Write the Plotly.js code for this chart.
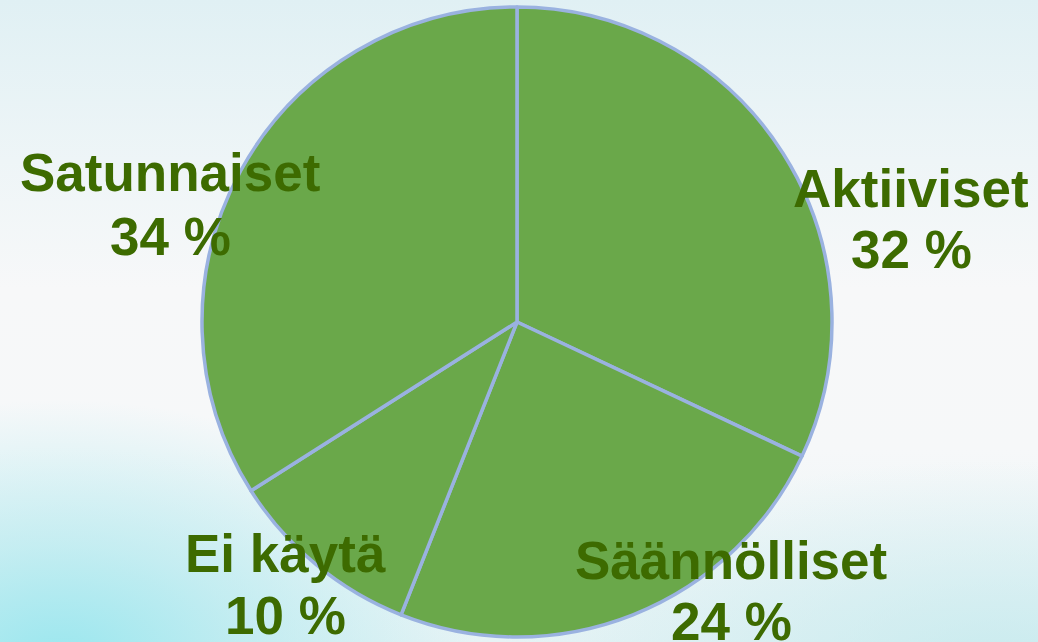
<!DOCTYPE html>
<html>
<head>
<meta charset="utf-8">
<script src="https://cdn.plot.ly/plotly-3.0.1.min.js"></script>
<style>
html, body { margin:0; padding:0; width:1038px; height:642px; overflow:hidden; }
body {
  background:
    radial-gradient(ellipse 420px 260px at 60px 660px, rgba(150,230,238,0.95) 0%, rgba(170,232,238,0.6) 45%, rgba(200,238,242,0) 100%),
    radial-gradient(ellipse 500px 200px at 1000px 660px, rgba(190,232,236,0.7) 0%, rgba(210,238,240,0) 100%),
    linear-gradient(to bottom, #e0f0f4 0%, #eef5f7 25%, #f7f8f9 45%, #f6f8f9 70%, #e6f3f5 100%);
}
#chart { width:1038px; height:642px; }
</style>
</head>
<body>
<div id="chart"></div>
<script>
var categories = ["Aktiiviset", "Säännölliset", "Ei käytä", "Satunnaiset"];
var shares = [32, 24, 10, 34];
var labelPx = [[911, 188, 250], [731, 560, 621], [285, 553, 615], [170, 172, 236]];

var W = 1038, H = 642;
var annotations = [];
var fontStyle = {family: "Liberation Sans, Arial, sans-serif", size: 53, color: "#3d6b00", weight: "bold"};
for (var i = 0; i < categories.length; i++) {
  var p = labelPx[i];
  annotations.push({xref: "paper", yref: "paper", x: p[0] / W, y: 1 - p[1] / H,
    xanchor: "center", yanchor: "middle", showarrow: false,
    text: "<b>" + categories[i] + "</b>", font: fontStyle});
  annotations.push({xref: "paper", yref: "paper", x: p[0] / W, y: 1 - p[2] / H,
    xanchor: "center", yanchor: "middle", showarrow: false,
    text: "<b>" + shares[i] + " %</b>", font: fontStyle});
}

var trace = {
  type: "pie",
  labels: categories,
  values: shares,
  sort: false,
  direction: "clockwise",
  rotation: 0,
  textinfo: "none",
  hoverinfo: "label+percent",
  marker: {colors: ["#6aa84a", "#6aa84a", "#6aa84a", "#6aa84a"], line: {color: "#9ab2e0", width: 3.5}},
  domain: {x: [202 / W, 832 / W], y: [1 - 637 / H, 1 - 7 / H]},
  showlegend: false
};

var layout = {
  width: W, height: H,
  margin: {l: 0, r: 0, t: 0, b: 0},
  paper_bgcolor: "rgba(0,0,0,0)",
  plot_bgcolor: "rgba(0,0,0,0)",
  showlegend: false,
  annotations: annotations
};

Plotly.newPlot("chart", [trace], layout, {displayModeBar: false, staticPlot: true});
</script>
</body>
</html>
